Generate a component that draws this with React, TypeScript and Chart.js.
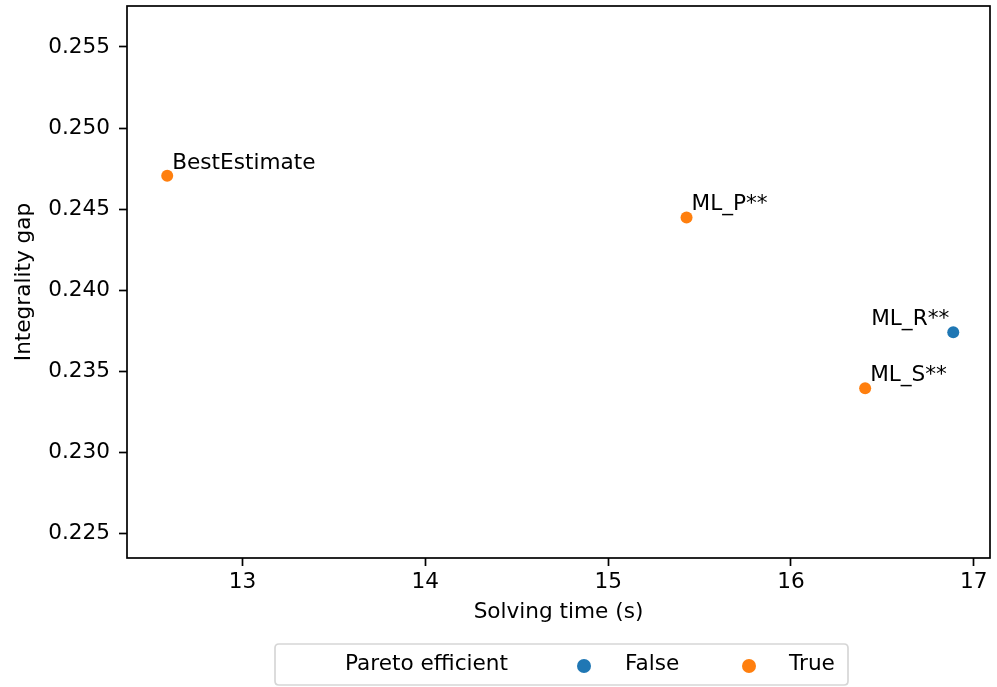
import React, { useEffect, useRef } from "react";
import { Chart, registerables } from "chart.js";

Chart.register(...registerables);

const methodNames = ["BestEstimate", "ML_P**", "ML_R**", "ML_S**"];
const solvingTime = [12.588, 15.429, 16.888, 16.406];
const integralityGap = [0.24705, 0.24448, 0.23739, 0.23393];
const paretoEfficient = [true, true, false, true];
const labelAlign = ["left", "left", "right", "left"];
const xTicks = [13, 14, 15, 16, 17];
const yTicks = [0.225, 0.23, 0.235, 0.24, 0.245, 0.25, 0.255];
const legendTitle = "Pareto efficient";
const legendLabels = ["False", "True"];

const FONT = '"DejaVu Sans", sans-serif';
const FS = 21.6;
const BLUE = "#1f77b4";
const ORANGE = "#ff7f0e";

export default function App() {
  const ref = useRef<HTMLCanvasElement | null>(null);

  useEffect(() => {
    if (!ref.current) return;
    const pts = (flag: boolean) =>
      solvingTime
        .map((x, i) => ({ x, y: integralityGap[i], f: paretoEfficient[i] }))
        .filter((p) => p.f === flag)
        .map((p) => ({ x: p.x, y: p.y }));

    const overlay = {
      id: "overlay",
      afterDatasetsDraw(chart: any) {
        const ctx = chart.ctx;
        const xs = chart.scales.x;
        const ys = chart.scales.y;
        ctx.save();
        ctx.font = `${FS}px ${FONT}`;
        ctx.fillStyle = "#000";
        ctx.textBaseline = "alphabetic";
        methodNames.forEach((n, i) => {
          const px = xs.getPixelForValue(solvingTime[i]);
          const py = ys.getPixelForValue(integralityGap[i]);
          const al = labelAlign[i];
          ctx.textAlign = al;
          ctx.fillText(n, px + (al === "right" ? -4 : 5), py - 7);
        });
        ctx.restore();
      },
      afterDraw(chart: any) {
        const ctx = chart.ctx;
        const a = chart.chartArea;
        ctx.save();
        // frame
        ctx.strokeStyle = "#000";
        ctx.lineWidth = 1.7;
        ctx.strokeRect(a.left, a.top, a.right - a.left, a.bottom - a.top);
        // axis titles
        ctx.fillStyle = "#000";
        ctx.font = `${FS}px ${FONT}`;
        ctx.textAlign = "center";
        ctx.textBaseline = "middle";
        ctx.fillText("Solving time (s)", (a.left + a.right) / 2, 612);
        ctx.save();
        ctx.translate(24, (a.top + a.bottom) / 2);
        ctx.rotate(-Math.PI / 2);
        ctx.fillText("Integrality gap", 0, 0);
        ctx.restore();
        // legend
        const lx = 275, ly = 644, lw = 573, lh = 41, r = 4;
        ctx.beginPath();
        ctx.moveTo(lx + r, ly);
        ctx.lineTo(lx + lw - r, ly);
        ctx.quadraticCurveTo(lx + lw, ly, lx + lw, ly + r);
        ctx.lineTo(lx + lw, ly + lh - r);
        ctx.quadraticCurveTo(lx + lw, ly + lh, lx + lw - r, ly + lh);
        ctx.lineTo(lx + r, ly + lh);
        ctx.quadraticCurveTo(lx, ly + lh, lx, ly + lh - r);
        ctx.lineTo(lx, ly + r);
        ctx.quadraticCurveTo(lx, ly, lx + r, ly);
        ctx.closePath();
        ctx.fillStyle = "rgba(255,255,255,0.8)";
        ctx.fill();
        ctx.strokeStyle = "#d6d6d6";
        ctx.lineWidth = 1.7;
        ctx.stroke();
        const cy = ly + lh / 2;
        ctx.fillStyle = "#000";
        ctx.textAlign = "left";
        ctx.textBaseline = "middle";
        ctx.fillText(legendTitle, 345, cy);
        const items = [
          { c: BLUE, t: legendLabels[0], dx: 584, tx: 625 },
          { c: ORANGE, t: legendLabels[1], dx: 749, tx: 789 },
        ];
        items.forEach((it) => {
          ctx.beginPath();
          ctx.arc(it.dx, cy + 1.5, 7, 0, Math.PI * 2);
          ctx.fillStyle = it.c;
          ctx.fill();
          ctx.fillStyle = "#000";
          ctx.fillText(it.t, it.tx, cy);
        });
        ctx.restore();
      },
    };

    const tickFont = { family: FONT, size: FS };
    const chart = new Chart(ref.current, {
      type: "scatter",
      data: {
        datasets: [
          {
            label: legendLabels[0],
            data: pts(false),
            backgroundColor: BLUE,
            borderColor: BLUE,
            pointRadius: 6,
            pointBorderWidth: 0,
          },
          {
            label: legendLabels[1],
            data: pts(true),
            backgroundColor: ORANGE,
            borderColor: ORANGE,
            pointRadius: 6,
            pointBorderWidth: 0,
          },
        ],
      },
      options: {
        responsive: false,
        animation: false,
        layout: { padding: { top: 6, right: 7, left: 0, bottom: 0 } },
        plugins: { legend: { display: false }, tooltip: { enabled: false } },
        scales: {
          x: {
            type: "linear",
            min: 12.368,
            max: 17.089,
            afterBuildTicks: (s: any) => {
              s.ticks = xTicks.map((v) => ({ value: v }));
            },
            afterFit: (s: any) => {
              s.height = 129;
              s.paddingLeft = 0;
              s.paddingRight = 0;
            },
            border: { display: false },
            grid: {
              display: true,
              drawOnChartArea: false,
              drawTicks: true,
              tickLength: 8,
              tickColor: "#000",
              tickWidth: 1.7,
            },
            ticks: {
              font: tickFont,
              color: "#000",
              padding: 3,
              maxRotation: 0,
              autoSkip: false,
              callback: (v: any) => String(v),
            },
          },
          y: {
            type: "linear",
            min: 0.22346,
            max: 0.25753,
            afterBuildTicks: (s: any) => {
              s.ticks = yTicks.map((v) => ({ value: v }));
            },
            afterFit: (s: any) => {
              s.width = 127;
              s.paddingTop = 0;
              s.paddingBottom = 0;
            },
            border: { display: false },
            grid: {
              display: true,
              drawOnChartArea: false,
              drawTicks: true,
              tickLength: 8,
              tickColor: "#000",
              tickWidth: 1.7,
            },
            ticks: {
              font: tickFont,
              color: "#000",
              padding: 9,
              autoSkip: false,
              callback: (v: any) => Number(v).toFixed(3),
            },
          },
        },
      },
      plugins: [overlay],
    } as any);
    return () => chart.destroy();
  }, []);

  return (
    <div style={{ position: "fixed", left: 0, top: 0, width: 997, height: 687, background: "#fff" }}>
      <canvas ref={ref} width={997} height={687} style={{ display: "block" }} />
    </div>
  );
}
